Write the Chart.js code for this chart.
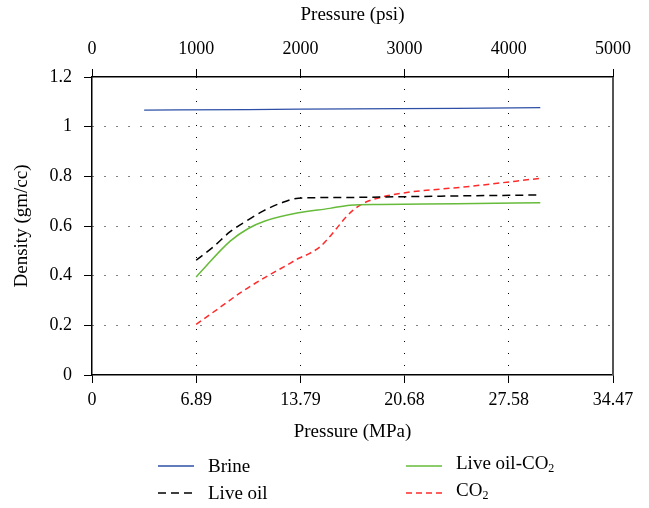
<!DOCTYPE html>
<html>
<head>
<meta charset="utf-8">
<script src="https://cdn.jsdelivr.net/npm/chart.js@4.4.1/dist/chart.umd.min.js"></script>
<style>
  html, body { margin: 0; padding: 0; background: #fff; }
  #wrap { width: 649px; height: 508px; }
</style>
</head>
<body>
<div id="wrap"><canvas id="chart"></canvas></div>
<script>
// pressure in MPa, density in gm/cc
var brineP   = [3.45, 10.34, 17.24, 24.13, 29.66];
var brineD   = [1.067, 1.069, 1.072, 1.074, 1.077];

var liveOilP = [6.89, 8.03, 9.14, 10.24, 11.34, 12.44, 13.65, 17.0, 20.68, 24.13, 29.66];
var liveOilD = [0.462, 0.516, 0.577, 0.621, 0.661, 0.691, 0.712, 0.715, 0.718, 0.721, 0.725];

var mixP     = [6.89, 9.14, 10.34, 11.45, 13.65, 15.74, 17.06, 19.05, 24.13, 29.66];
var mixD     = [0.395, 0.539, 0.59, 0.62, 0.653, 0.671, 0.684, 0.687, 0.69, 0.694];

var co2P     = [6.89, 8.37, 9.91, 11.34, 12.88, 13.65, 14.31, 15.08, 15.63, 16.18, 16.73, 17.28, 17.94, 18.83, 20.37, 24.77, 29.66];
var co2D     = [0.204, 0.268, 0.335, 0.389, 0.442, 0.469, 0.487, 0.516, 0.55, 0.59, 0.631, 0.664, 0.691, 0.711, 0.731, 0.758, 0.792];

var mpaTicks  = [0, 6.89, 13.79, 20.68, 27.58, 34.47];
var mpaLabels = ['0', '6.89', '13.79', '20.68', '27.58', '34.47'];

var FONT = '"Liberation Serif", "Times New Roman", serif';

function pts(xs, ys) {
  return xs.map(function (x, i) { return { x: x, y: ys[i] }; });
}

// text with "CO2" drawn as CO + subscript 2
function subText(ctx, text, x, y, size) {
  var parts = text.split('CO2');
  var cx = x;
  for (var i = 0; i < parts.length; i++) {
    ctx.font = size + 'px ' + FONT;
    ctx.fillText(parts[i], cx, y);
    cx += ctx.measureText(parts[i]).width;
    if (i < parts.length - 1) {
      ctx.fillText('CO', cx, y);
      cx += ctx.measureText('CO').width;
      ctx.font = Math.round(size * 0.65) + 'px ' + FONT;
      ctx.fillText('2', cx, y + size * 0.25);
      cx += ctx.measureText('2').width;
    }
  }
}

var extras = {
  id: 'extras',
  afterDraw: function (chart) {
    var ctx = chart.ctx, a = chart.chartArea;
    ctx.save();
    // right frame
    ctx.strokeStyle = '#555';
    ctx.lineWidth = 2;
    ctx.beginPath();
    ctx.moveTo(a.right, a.top);
    ctx.lineTo(a.right, a.bottom);
    ctx.stroke();

    // legend, two columns
    var slots = [[158, 466], [406, 466], [158, 493], [406, 493]];
    var order = [0, 2, 1, 3];
    order.forEach(function (di, k) {
      var ds = chart.data.datasets[di];
      var s = slots[k];
      ctx.strokeStyle = ds.borderColor;
      ctx.lineWidth = 1.3;
      ctx.setLineDash(ds.borderDash || []);
      ctx.beginPath();
      ctx.moveTo(s[0], s[1]);
      ctx.lineTo(s[0] + 36, s[1]);
      ctx.stroke();
      ctx.setLineDash([]);
      ctx.fillStyle = '#000';
      ctx.textBaseline = 'middle';
      ctx.textAlign = 'left';
      subText(ctx, ds.label, s[0] + 50, s[1] + (k % 2 ? -2 : 1), 19);
    });
    ctx.restore();
  }
};

var gridColor = function (last) {
  return function (c) { return (c.index === 0 || c.index === last) ? 'rgba(0,0,0,0)' : '#000'; };
};

var ctx = document.getElementById('chart').getContext('2d');
var chart = new Chart(ctx, {
  type: 'line',
  data: {
    datasets: [
      { label: 'Brine', data: pts(brineP, brineD), borderColor: '#2d4fa6', borderWidth: 1.3 },
      { label: 'Live oil', data: pts(liveOilP, liveOilD), borderColor: '#000', borderWidth: 1.5, borderDash: [8, 5] },
      { label: 'Live oil-CO2', data: pts(mixP, mixD), borderColor: '#66bb3a', borderWidth: 1.5 },
      { label: 'CO2', data: pts(co2P, co2D), borderColor: '#ff2a2a', borderWidth: 1.5, borderDash: [6, 4] }
    ]
  },
  options: {
    responsive: true,
    maintainAspectRatio: false,
    animation: false,
    layout: { padding: { left: 7, right: 36, top: 0, bottom: 61 } },
    elements: {
      point: { radius: 0 },
      line: { cubicInterpolationMode: 'monotone', fill: false }
    },
    plugins: { legend: { display: false }, tooltip: { enabled: false } },
    scales: {
      x: {
        type: 'linear',
        position: 'bottom',
        min: 0,
        max: 34.47,
        afterBuildTicks: function (scale) {
          scale.ticks = mpaTicks.map(function (v) { return { value: v }; });
        },
        afterFit: function (scale) { scale.height = 72; },
        ticks: {
          padding: 6,
          color: '#000',
          font: { family: FONT, size: 18 },
          autoSkip: false,
          maxRotation: 0,
          callback: function (v, i) { return mpaLabels[i]; }
        },
        grid: {
          color: gridColor(mpaTicks.length - 1),
          tickBorderDash: [],
          tickColor: '#000',
          tickLength: 8,
          lineWidth: 1
        },
        border: { color: '#000', width: 1.5, dash: [1, 11] },
        title: { display: true, text: 'Pressure (MPa)', color: '#000', font: { family: FONT, size: 19 } }
      },
      x2: {
        type: 'linear',
        position: 'top',
        min: 0,
        max: 5000,
        afterFit: function (scale) { scale.height = 77; },
        ticks: {
          stepSize: 1000,
          padding: 9,
          color: '#000',
          font: { family: FONT, size: 18 },
          maxRotation: 0,
          callback: function (v) { return String(v); }
        },
        grid: { drawOnChartArea: false, tickColor: '#000', tickLength: 8 },
        border: { color: '#000', width: 1.5 },
        title: { display: true, text: 'Pressure (psi)', color: '#000', font: { family: FONT, size: 19 } }
      },
      y: {
        min: 0,
        max: 1.2,
        afterFit: function (scale) { scale.width = 85; },
        ticks: {
          stepSize: 0.2,
          padding: 12,
          color: '#000',
          font: { family: FONT, size: 18 },
          callback: function (v) { return String(Number(v.toFixed(1))); }
        },
        grid: {
          color: gridColor(6),
          tickBorderDash: [],
          tickColor: '#000',
          tickLength: 8,
          lineWidth: 1
        },
        border: { color: '#000', width: 1.5, dash: [1, 11] },
        title: { display: true, text: 'Density (gm/cc)', color: '#000', font: { family: FONT, size: 19 } }
      }
    }
  },
  plugins: [extras]
});
</script>
</body>
</html>
